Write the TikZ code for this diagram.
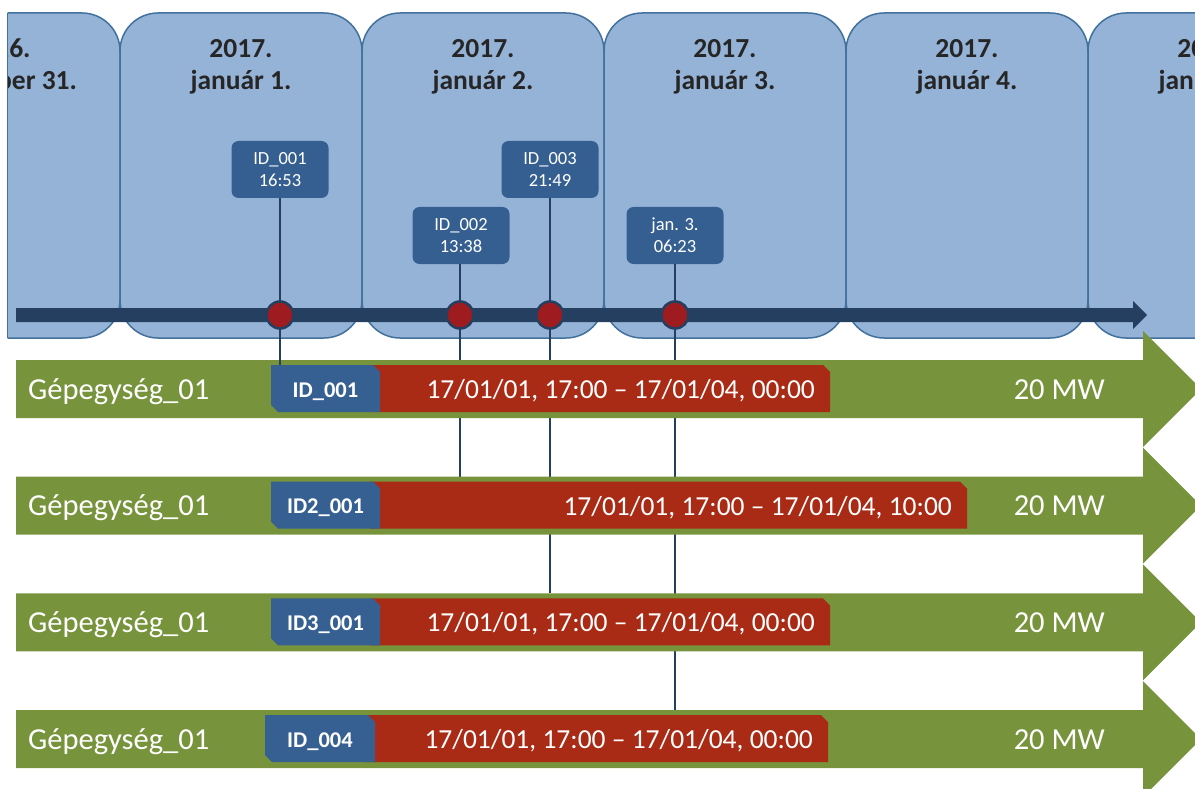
\documentclass[tikz,border=0pt]{standalone}
\usepackage{fontspec}
\setmainfont{Carlito}
\definecolor{dayfill}{HTML}{95B3D7}
\definecolor{dayline}{HTML}{41719C}
\definecolor{navy}{HTML}{243F60}
\definecolor{dotred}{HTML}{9E1B20}
\definecolor{callfill}{HTML}{365F91}
\definecolor{rowgreen}{HTML}{77933C}
\definecolor{rowred}{HTML}{A92B15}
\definecolor{badgeblue}{HTML}{366092}
\definecolor{titletext}{HTML}{262626}
\begin{document}
\begin{tikzpicture}[x=1pt,y=-1pt,
  daybox/.style={fill=dayfill, draw=dayline, line width=1.5pt, rounded corners=38pt},
  daytitle/.style={anchor=base, text=titletext, font=\fontsize{27.5}{30}\selectfont\bfseries, inner sep=0pt},
  callout/.style={fill=callfill, rounded corners=7pt, minimum width=97pt, minimum height=57pt, text=white, align=center, font=\fontsize{18.5}{22}\selectfont, inner sep=0pt},
  eventdot/.style={circle, fill=dotred, draw=navy, line width=2.5pt, minimum size=27pt, inner sep=0pt},
  connector/.style={draw=navy, line width=2pt},
  unittext/.style={text=white, font=\fontsize{30.5}{32}\selectfont, inner sep=0pt},
  rowtext/.style={text=white, font=\fontsize{27.5}{30}\selectfont, inner sep=0pt},
  badgetext/.style={text=white, font=\fontsize{22.5}{24}\selectfont\bfseries, inner sep=0pt, anchor=base},
]
\useasboundingbox (0,0) rectangle (1195,789);
\clip (0,0) rectangle (1195,789);

% day boxes and their titles (cut at the left edge as in the reference)
\begin{scope}
  \clip (7.5,0) rectangle (1195,789);
  \foreach \k in {0,...,5} {
    \draw[daybox] ({-122+242*\k},13) rectangle ({120+242*\k},338);
  }
  \foreach \k/\ya/\yb in {0/2016./december 31., 1/2017./január 1., 2/2017./január 2., 3/2017./január 3., 4/2017./január 4., 5/2017./január 5.} {
    \node[daytitle] (ya\k) at ({-1+242*\k},58) {\ya};
    \node[daytitle] (yb\k) at ({-1+242*\k},90) {\yb};
  }
\end{scope}
\draw[dayline, line width=1.5pt] (7.5,13) -- (7.5,338);

% timeline arrow
\fill[navy] (16,308) -- (1133,308) -- (1133,301) -- (1147,315) -- (1133,329) -- (1133,322) -- (16,322) -- cycle;

% callouts
\node[callout] (c1) at (280,169.5) {ID\_001\\16:53};
\node[callout] (c2) at (461,235.5) {ID\_002\\13:38};
\node[callout] (c3) at (550,169.5) {ID\_003\\21:49};
\node[callout] (c4) at (675,235.5) {jan. 3.\\06:23};

% row reference coordinates
\coordinate (r1) at (0,360);
\coordinate (r1b) at (0,365);
\coordinate (r2) at (0,476.67);
\coordinate (r3) at (0,593.33);
\coordinate (r4) at (0,710);

% connectors behind rows
\draw[connector] ([xshift=-1pt]c2.south) -- ([xshift=-1pt]c2.south |- r2);
\draw[connector] (c3.south) -- (c3.south |- r3);
\draw[connector] (c4.south) -- (c4.south |- r4);

% rows
\foreach \k/\bl/\br/\rr/\idt/\et in {0/271/380/830/ID\_001/00:00, 1/271/380/967/ID2\_001/10:00, 2/271/380/830/ID3\_001/00:00, 3/265/375/828/ID\_004/00:00} {
  \pgfmathsetmacro{\yt}{360+116.67*\k}
  \pgfmathsetmacro{\yb}{\yt+58}
  \pgfmathsetmacro{\yc}{\yt+29}
  \fill[rowgreen] (16,\yt) -- (1143,\yt) -- (1143,\yc-58) -- (1201,\yc) -- (1143,\yc+58) -- (1143,\yb) -- (16,\yb) -- cycle;
  \fill[rowred] (\br-10,\yt+5) -- (\rr-7,\yt+5) -- (\rr,\yt+12) -- (\rr,\yb-6) -- (\br-10,\yb-6) -- cycle;
  \fill[badgeblue] (\bl,\yt+5) -- (\br-7,\yt+5) -- (\br,\yt+12) -- (\br,\yb-6) -- (\bl+7,\yb-6) -- (\bl,\yb-13) -- cycle;
  \node[unittext, anchor=base west] (unit\k) at (28,\yc+10) {Gépegység\_01};
  \node[rowtext, anchor=base east] (per\k) at (\rr-15,\yc+9.5) {17/01/01, 17:00 – 17/01/04, \et};
  \node[unittext, anchor=base east] (mw\k) at (1105,\yc+10) {20 MW};
  \node[badgetext] (id\k) at ({(\bl+\br)/2},\yc+8) {\idt};
}

% connector to first row
\draw[connector] (c1.south) -- (c1.south |- r1b);

% event dots
\node[eventdot] (p1) at (280,315) {};
\node[eventdot] (p2) at (460,315) {};
\node[eventdot] (p3) at (550,315) {};
\node[eventdot] (p4) at (675,315) {};
\end{tikzpicture}
\end{document}
